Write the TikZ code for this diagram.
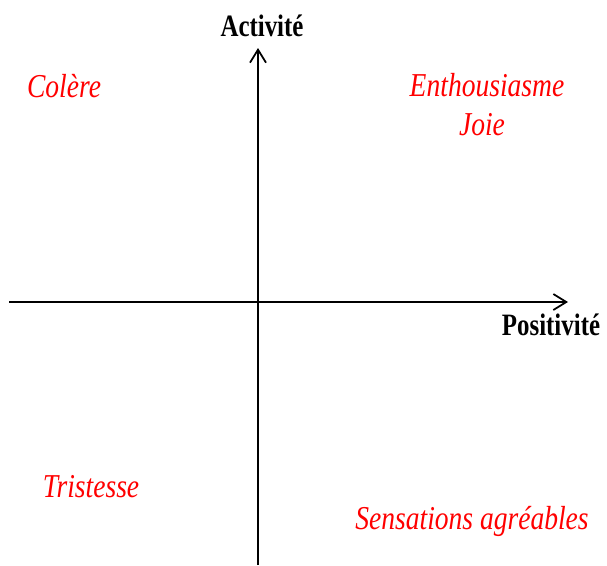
\documentclass[tikz,border=0pt]{standalone}
\usepackage{fontspec}
\setmainfont{Liberation Serif}
\usetikzlibrary{arrows.meta}
\begin{document}
\begin{tikzpicture}[
    x=0.02cm, y=-0.02cm,
    axis/.style={-{Straight Barb[length=0.26cm, width=0.32cm, line width=1pt]}, line width=1.1pt},
    axlabel/.style={anchor=base, inner sep=0pt, font=\fontsize{17.7}{20}\selectfont\bfseries, xscale=0.8},
    emotion/.style={anchor=base, inner sep=0pt, text=red, font=\fontsize{19}{22}\selectfont\itshape, xscale=0.825}
]
\useasboundingbox (0,0) rectangle (607,565);

% Axes
\coordinate (xmin) at (9,302);
\coordinate (xmax) at (568,302);
\coordinate (ymin) at (258,565);
\coordinate (ymax) at (258,48);
\draw[axis] (xmin) -- (xmax);
\draw[axis] (ymin) -- (ymax);

% Axis labels
\node[axlabel] (activite) at (262,36) {Activité};
\node[axlabel] (positivite) at (551,335) {Positivité};

% Emotions
\node[emotion] (colere) at (64,97) {Colère};
\node[emotion] (enthousiasme) at (487,96) {Enthousiasme};
\node[emotion] (joie) at (482,135) {Joie};
\node[emotion] (tristesse) at (91,497) {Tristesse};
\node[emotion] (sensations) at (472,529) {Sensations agréables};

\end{tikzpicture}
\end{document}
